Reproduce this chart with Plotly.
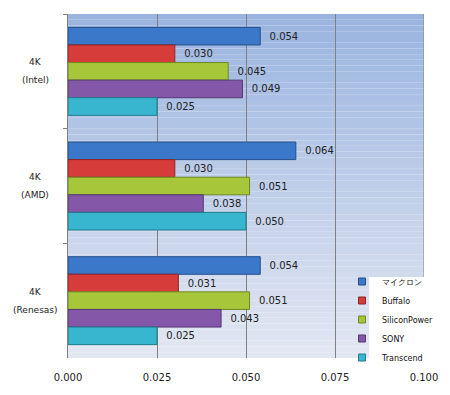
import plotly.graph_objects as go

categories = ["4K<br>(Intel)", "4K<br>(AMD)", "4K<br>(Renesas)"]
series_names = ["マイクロン", "Buffalo", "SiliconPower", "SONY", "Transcend"]
micron = [0.054, 0.064, 0.054]
buffalo = [0.030, 0.030, 0.031]
siliconpower = [0.045, 0.051, 0.051]
sony = [0.049, 0.038, 0.043]
transcend = [0.025, 0.050, 0.025]
series_values = [micron, buffalo, siliconpower, sony, transcend]
x_ticks = [0.0, 0.025, 0.05, 0.075, 0.1]
x_tick_labels = ["0.000", "0.025", "0.050", "0.075", "0.100"]

colors = ["#3b78c9", "#d63c3a", "#a6c73a", "#8457a8", "#39b6cf"]
edges = ["#234f8a", "#8e2524", "#6f8a1f", "#553872", "#1f7b8e"]

FONT = "DejaVu Sans"

fig = go.Figure()
for name, vals, c, e in zip(series_names, series_values, colors, edges):
    fig.add_trace(go.Bar(
        y=categories, x=vals, name=name, orientation="h",
        marker=dict(color=c, line=dict(color=e, width=1)),
        text=vals, texttemplate="  %{x:.3f}", textposition="outside",
        textfont=dict(family=FONT, size=10, color="#222222"),
        cliponaxis=False, showlegend=False,
    ))
# legend entries (small square swatches)
for name, c, e in zip(series_names, colors, edges):
    fig.add_trace(go.Scatter(
        x=[None], y=[None], mode="markers", name=name,
        marker=dict(symbol="square", size=7, color=c, line=dict(color=e, width=1)),
        showlegend=True,
    ))

# background gradient bands (styling)
shapes = []
n = 60
top = (154, 180, 223)
bot = (226, 231, 242)
for i in range(n):
    t = i / (n - 1)
    col = tuple(round(top[k] + (bot[k] - top[k]) * t) for k in range(3))
    shapes.append(dict(type="rect", xref="paper", yref="paper",
                       x0=0, x1=1, y0=1 - (i + 1) / n, y1=1 - i / n,
                       fillcolor="rgb(%d,%d,%d)" % col, line=dict(width=0),
                       layer="below"))
# right border line at max
shapes.append(dict(type="line", xref="x", yref="paper", x0=x_ticks[-1], x1=x_ticks[-1],
                   y0=(358 - 277) / 344, y1=1, line=dict(color="#808080", width=1),
                   layer="below"))
# white legend panel
shapes.append(dict(type="rect", xref="paper", yref="paper",
                   x0=(370 - 68) / 357, x1=(450 - 68) / 357,
                   y0=0, y1=(358 - 277) / 344,
                   fillcolor="#ffffff", line=dict(width=0), layer="above"))

annotations = []
for cat in categories:
    lines = cat.split("<br>")
    for j, ln in enumerate(lines):
        annotations.append(dict(x=-33 / 357, xref="paper", y=cat, yref="y",
                                text=ln, showarrow=False, align="center",
                                xanchor="center", yanchor="middle",
                                yshift=9 - 18 * j,
                                font=dict(family=FONT, size=9, color="#222222")))

fig.update_layout(
    width=450, height=395,
    margin=dict(l=68, r=25, t=14, b=37),
    paper_bgcolor="white", plot_bgcolor="rgba(0,0,0,0)",
    barmode="group", bargap=0.233, bargroupgap=0,
    shapes=shapes, annotations=annotations,
    showlegend=True,
    legend=dict(x=(342 - 68) / 357, xanchor="left", y=(358 - 267) / 344, yanchor="top",
                bgcolor="rgba(0,0,0,0)", borderwidth=0,
                font=dict(family=FONT, size=8, color="#111111"),
                itemwidth=30, tracegroupgap=0, traceorder="normal"),
    xaxis=dict(range=[0, 0.1], tickvals=x_ticks, ticktext=x_tick_labels,
               showgrid=True, gridcolor="#808080", gridwidth=1,
               zeroline=False, showline=False, ticks="",
               tickfont=dict(family=FONT, size=10, color="#222222"),
               ticklabelstandoff=12),
    xaxis2=dict(range=[0, 0.1], tickvals=x_ticks, overlaying="x", side="top",
                showticklabels=False, ticks="outside", ticklen=4,
                tickcolor="#808080", showline=True, linecolor="#808080",
                showgrid=False, zeroline=False),
    yaxis=dict(autorange="reversed", showticklabels=False, ticks="outside",
               tickson="boundaries", ticklen=4, tickcolor="#808080",
               showline=True, linecolor="#808080", showgrid=False,
               zeroline=False),
)

fig.write_html("out.html")
